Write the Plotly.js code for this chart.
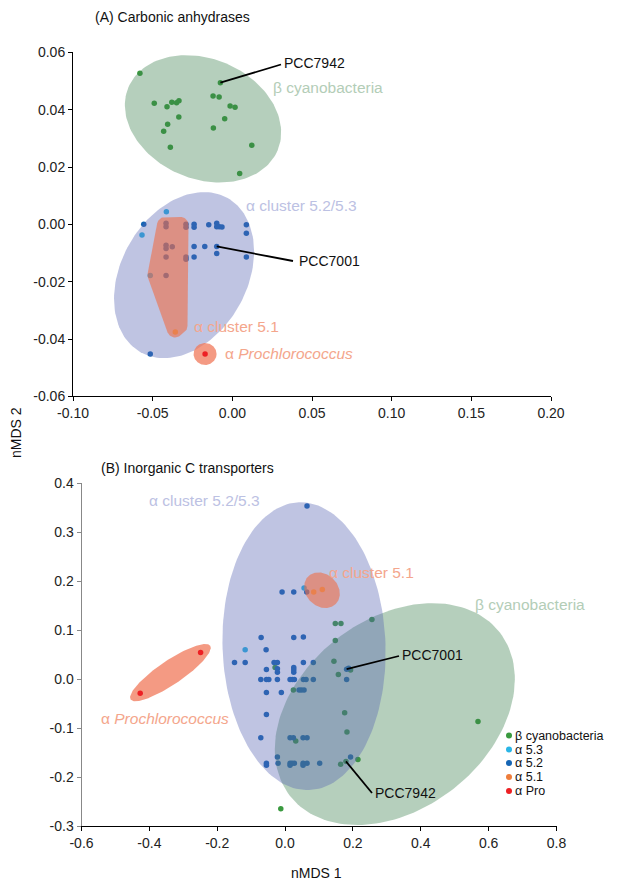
<!DOCTYPE html>
<html><head><meta charset="utf-8">
<script src="https://cdn.plot.ly/plotly-3.0.1.min.js"></script>
<style>html,body{margin:0;padding:0;background:#fff}</style>
</head><body>
<div id="chart" style="width:617px;height:882px"></div>
<script>
// ---------------- DATA ----------------
const categories = ["β cyanobacteria", "α 5.3", "α 5.2", "α 5.1", "α Pro"];

// Panel A: Carbonic anhydrases
const A_beta_x = [-0.058,-0.049,-0.041,-0.038,-0.035,-0.0335,-0.0336,-0.0406,-0.0431,-0.0389,-0.0075,-0.0121,-0.0083,-0.0014,0.0017,-0.0048,-0.0119,0.0122,0.0046];
const A_beta_y = [0.0527,0.0422,0.0410,0.0426,0.0424,0.0431,0.0374,0.0349,0.0325,0.0269,0.0494,0.0448,0.0444,0.0413,0.0408,0.0368,0.0336,0.0276,0.0177];
const A_a53_x = [-0.0414,-0.0567,-0.0515];
const A_a53_y = [0.0044,-0.0037,-0.0178];
const A_a52_x = [-0.0556,-0.0416,-0.0416,-0.0291,-0.0291,-0.0240,-0.0240,-0.0148,-0.0098,-0.0098,-0.0082,-0.0065,0.0088,0.0088,-0.0240,-0.0173,-0.0098,-0.0098,-0.0240,0.0088,-0.0515,-0.0416,-0.0416,-0.0377,-0.0416,-0.0291,-0.0291,-0.0416];
const A_a52_y = [0.0000,0.0004,-0.0008,0.0000,-0.0010,0.0000,-0.0010,-0.0001,0.0004,-0.0008,-0.0008,-0.0009,-0.0001,-0.0031,-0.0077,-0.0077,-0.0077,-0.0102,-0.0114,-0.0114,-0.0452,-0.0073,-0.0084,-0.0078,-0.0114,-0.0114,-0.0122,-0.0178];
const A_a51_x = [-0.0358];
const A_a51_y = [-0.0375];
const A_pro_x = [-0.0171];
const A_pro_y = [-0.0452];

// Panel B: Inorganic C transporters
const B_beta_x = [0.148,0.1647,0.256,0.148,0.144,0.193,0.157,-0.0294,0.0245,0.1756,0.1824,0.0315,0.2147,0.1638,0.1794,-0.0126,0.5686];
const B_beta_y = [0.1137,0.1137,0.122,0.079,0.0367,0.0184,0.0096,0.0239,-0.022,-0.0688,-0.108,-0.1265,-0.164,-0.174,-0.168,-0.265,-0.0864];
const B_a53_x = [0.056,-0.1176];
const B_a53_y = [0.186,0.0598];
const B_a52_x = [0.0647,-0.0088,0.0256,0.0638,-0.0706,0.0256,0.054,-0.0559,-0.149,-0.1176,-0.0324,-0.0226,0.054,0.0832,-0.055,-0.0226,-0.0226,0.0256,0.0256,0.0256,0.1814,0.1874,
  -0.0715,-0.055,-0.048,-0.0226,0.0147,0.0215,0.0274,0.054,0.0618,0.0832,0.1814,
  0.0412,0.048,0.0559,-0.055,-0.011,-0.055,-0.0715,0.0147,0.0245,0.053,0.0647,-0.0226,0.193,
  -0.055,-0.0206,0.0147,0.0206,0.0274,0.053,0.0647,0.102,-0.055,0.0147,0.053];
const B_a52_y = [0.3537,0.178,0.178,0.178,0.085,0.085,0.0863,0.0598,0.0341,0.0341,0.0341,0.0341,0.0341,0.0341,0.0198,0.021,0.0143,0.024,0.019,0.0143,0.0204,0.0224,
  -0.001,-0.001,-0.001,-0.001,-0.001,-0.001,-0.001,-0.001,-0.001,-0.001,-0.001,
  -0.022,-0.022,-0.022,-0.0272,-0.0272,-0.072,-0.1197,-0.1197,-0.1197,-0.1197,-0.1197,-0.159,-0.159,
  -0.172,-0.172,-0.172,-0.172,-0.172,-0.172,-0.172,-0.172,-0.176,-0.176,-0.176];
const B_a51_x = [0.0844,0.1097];
const B_a51_y = [0.178,0.183];
const B_pro_x = [-0.249,-0.427];
const B_pro_y = [0.0545,-0.029];

// Tick labels
const A_xtick_vals = [-0.10,-0.05,0.00,0.05,0.10,0.15,0.20];
const A_xtick_text = ["-0.10","-0.05","0.00","0.05","0.10","0.15","0.20"];
const A_ytick_vals = [-0.06,-0.04,-0.02,0.00,0.02,0.04,0.06];
const A_ytick_text = ["-0.06","-0.04","-0.02","0.00","0.02","0.04","0.06"];
const B_xtick_vals = [-0.6,-0.4,-0.2,0.0,0.2,0.4,0.6,0.8];
const B_xtick_text = ["-0.6","-0.4","-0.2","0.0","0.2","0.4","0.6","0.8"];
const B_ytick_vals = [-0.3,-0.2,-0.1,0.0,0.1,0.2,0.3,0.4];
const B_ytick_text = ["-0.3","-0.2","-0.1","0.0","0.1","0.2","0.3","0.4"];

// ---------------- STYLE / GEOMETRY ----------------
const W = 617, H = 882;
const FONT = "Liberation Sans, Arial, Helvetica, sans-serif";
const COL = {beta:"#3a9a3f", a53:"#2ab5e6", a52:"#1565b4", a51:"#ee7d3b", pro:"#ed2024"};
const catColors = [COL.beta, COL.a53, COL.a52, COL.a51, COL.pro];
const FILL = {
  green: "rgba(60,130,80,0.38)",
  blue: "rgba(87,100,179,0.38)",
  orange: "rgba(240,110,70,0.6)",
  pro: "rgba(240,120,90,0.75)"
};
const TXT = {green:"#b3cdb7", blue:"#bcc1e3", salmon:"#f4a68c"};

const PA = {x0:73, x1:551, yTop:52.3, yBot:396.4, xr:[-0.10,0.20], yr:[-0.06,0.06], xa:'x', ya:'y'};
const PB = {x0:81.5, x1:556.5, yTop:483.3, yBot:826, xr:[-0.6,0.8], yr:[-0.3,0.4], xa:'x2', ya:'y2'};
[PA,PB].forEach(p => {
  p.sx = (p.x1 - p.x0) / (p.xr[1] - p.xr[0]);
  p.sy = (p.yBot - p.yTop) / (p.yr[1] - p.yr[0]);
});
function toData(p, px, py) { return [p.xr[0] + (px - p.x0) / p.sx, p.yr[0] + (p.yBot - py) / p.sy]; }

function ellipse(p, cx, cy, a, b, deg) {
  const th = deg * Math.PI / 180, xs = [], ys = [];
  for (let i = 0; i <= 160; i++) {
    const t = 2 * Math.PI * i / 160;
    const u = a * Math.cos(t) * Math.cos(th) - b * Math.sin(t) * Math.sin(th);
    const v = a * Math.cos(t) * Math.sin(th) + b * Math.sin(t) * Math.cos(th);
    xs.push(cx + u / p.sx); ys.push(cy + v / p.sy);
  }
  return [xs, ys];
}
function roundedHull(p, core, r) {
  let pts = core.map(([x, y]) => [(x - p.xr[0]) * p.sx, (y - p.yr[0]) * p.sy]);
  let area = 0;
  for (let i = 0; i < pts.length; i++) { const a = pts[i], b = pts[(i + 1) % pts.length]; area += a[0] * b[1] - b[0] * a[1]; }
  if (area < 0) pts.reverse();
  const n = pts.length, xs = [], ys = [];
  for (let i = 0; i < n; i++) {
    const pr = pts[(i - 1 + n) % n], c = pts[i], nx = pts[(i + 1) % n];
    const e1 = [c[0] - pr[0], c[1] - pr[1]], e2 = [nx[0] - c[0], nx[1] - c[1]];
    let a1 = Math.atan2(-e1[0], e1[1]), a2 = Math.atan2(-e2[0], e2[1]);
    while (a2 < a1) a2 += 2 * Math.PI;
    for (let k = 0; k <= 12; k++) {
      const a = a1 + (a2 - a1) * k / 12;
      xs.push(p.xr[0] + (c[0] + r * Math.cos(a)) / p.sx);
      ys.push(p.yr[0] + (c[1] + r * Math.sin(a)) / p.sy);
    }
  }
  xs.push(xs[0]); ys.push(ys[0]);
  return [xs, ys];
}

function fillTrace(p, xy, color) {
  return {type:'scatter', mode:'lines', x:xy[0], y:xy[1], fill:'toself', fillcolor:color,
    line:{width:0, color:'rgba(0,0,0,0)'}, hoverinfo:'skip', showlegend:false, xaxis:p.xa, yaxis:p.ya};
}
function ptTrace(p, xs, ys, color, name, extra) {
  return Object.assign({type:'scatter', mode:'markers', x:xs, y:ys, name:name,
    marker:{size:5.5, color:color, line:{width:0}}, cliponaxis:false, showlegend:false,
    hoverinfo:'x+y+name', xaxis:p.xa, yaxis:p.ya}, extra || {});
}

// hull core for alpha 5.1 in panel A (pixel corners converted to data)
const hullA = [[165,225],[180.5,225],[179.5,326],[175,329.5],[155.5,275]].map(q => toData(PA, q[0], q[1]));

const traces = [
  // Panel A
  ptTrace(PA, A_beta_x, A_beta_y, COL.beta, categories[0]),
  ptTrace(PA, A_a52_x, A_a52_y, COL.a52, categories[2]),
  ptTrace(PA, A_a53_x, A_a53_y, COL.a53, categories[1]),
  fillTrace(PA, ellipse(PA, -0.0184, 0.0368, 81, 60, -23), FILL.green),
  fillTrace(PA, ellipse(PA, -0.0303, -0.0177, 88.5, 63, 60.5), FILL.blue),
  fillTrace(PA, roundedHull(PA, hullA, 8), FILL.orange),
  ptTrace(PA, A_a51_x, A_a51_y, COL.a51, categories[3], {opacity:0.75}),
  fillTrace(PA, ellipse(PA, A_pro_x[0], A_pro_y[0], 11.5, 11, 0), FILL.pro),
  ptTrace(PA, A_pro_x, A_pro_y, COL.pro, categories[4]),
  // Panel B
  ptTrace(PB, B_beta_x, B_beta_y, COL.beta, categories[0]),
  ptTrace(PB, B_a52_x, B_a52_y, COL.a52, categories[2]),
  ptTrace(PB, B_a53_x, B_a53_y, COL.a53, categories[1]),
  fillTrace(PB, ellipse(PB, 0.3235, -0.0714, 133, 95, 38), FILL.green),
  fillTrace(PB, ellipse(PB, 0.0559, 0.0673, 144, 81.5, 92), FILL.blue),
  fillTrace(PB, ellipse(PB, 0.1088, 0.1816, 19.5, 16, -45), FILL.orange),
  ptTrace(PB, B_a51_x, B_a51_y, COL.a51, categories[3], {opacity:0.75}),
  fillTrace(PB, ellipse(PB, -0.338, 0.0133, 48, 12, 34), FILL.pro),
  ptTrace(PB, B_pro_x, B_pro_y, COL.pro, categories[4])
];

function ann(text, px, py, size, color, extra) {
  return Object.assign({text:text, x:px / W, y:1 - py / H, xref:'paper', yref:'paper',
    xanchor:'left', yanchor:'middle', showarrow:false,
    font:{family:FONT, size:size, color:color}}, extra || {});
}
const annotations = [
  ann("(A) Carbonic anhydrases", 172, 17, 14, "#111", {xanchor:'center'}),
  ann("(B) Inorganic C transporters", 187, 468, 14, "#111", {xanchor:'center'}),
  ann("nMDS 1", 316, 873, 14, "#111", {xanchor:'center'}),
  ann("nMDS 2", 16, 433, 14, "#111", {xanchor:'center', textangle:-90}),
  // panel A labels
  ann("β cyanobacteria", 271, 88, 15.5, TXT.green),
  ann("α cluster 5.2/5.3", 244, 206, 15.5, TXT.blue),
  ann("α cluster 5.1", 192, 326, 15.5, TXT.salmon),
  ann("α <i>Prochlorococcus</i>", 223, 353, 15.5, TXT.salmon),
  ann("PCC7942", 282, 63, 14, "#111"),
  ann("PCC7001", 297, 261, 14, "#111"),
  // panel B labels
  ann("α cluster 5.2/5.3", 147, 500, 15.5, TXT.blue),
  ann("α cluster 5.1", 327, 572, 15.5, TXT.salmon),
  ann("β cyanobacteria", 473, 604, 15.5, TXT.green),
  ann("α <i>Prochlorococcus</i>", 99, 718, 15.5, TXT.salmon),
  ann("PCC7001", 400, 655, 14, "#111"),
  ann("PCC7942", 373, 793, 14, "#111")
];
// legend text
const legendY = [735.5, 749.5, 763, 777, 791];
categories.forEach((c, i) => annotations.push(ann(c, 514, legendY[i], 12.5, "#111", {borderpad:0})));

function callout(p, x, y, px, py) {
  const e = toData(p, px, py);
  return {type:'line', xref:p.xa, yref:p.ya, x0:x, y0:y, x1:e[0], y1:e[1], line:{color:'#000', width:1.8}};
}
const shapes = [
  callout(PA, A_beta_x[10], A_beta_y[10], 281, 64.5),
  callout(PA, A_a52_x[16], A_a52_y[16], 293, 261),
  callout(PB, B_a52_x[20], B_a52_y[20], 399, 656),
  callout(PB, B_beta_x[14], B_beta_y[14], 372, 793)
];
catColors.forEach((col, i) => shapes.push({type:'circle', xref:'paper', yref:'paper',
  x0:(509 - 3) / W, x1:(509 + 3) / W, y0:1 - (legendY[i] + 3) / H, y1:1 - (legendY[i] - 3) / H,
  fillcolor:col, line:{width:0}}));

function axis(p, isX, vals, text, dom, anchor, lineColor) {
  return {range:isX ? p.xr : p.yr, domain:dom, anchor:anchor, showline:true, linecolor:lineColor, linewidth:1,
    ticks:'outside', ticklen:4, tickcolor:lineColor, tickwidth:1, showgrid:false, zeroline:false,
    tickvals:vals, ticktext:text, tickfont:{family:FONT, size:14, color:'#222'}, fixedrange:true};
}

const layout = {
  width:W, height:H, autosize:false, margin:{l:0, r:0, t:0, b:0},
  paper_bgcolor:'#fff', plot_bgcolor:'rgba(0,0,0,0)', showlegend:false,
  font:{family:FONT},
  xaxis: axis(PA, true, A_xtick_vals, A_xtick_text, [PA.x0 / W, PA.x1 / W], 'y', '#000'),
  yaxis: axis(PA, false, A_ytick_vals, A_ytick_text, [1 - PA.yBot / H, 1 - PA.yTop / H], 'x', '#000'),
  xaxis2: axis(PB, true, B_xtick_vals, B_xtick_text, [PB.x0 / W, PB.x1 / W], 'y2', '#000'),
  yaxis2: axis(PB, false, B_ytick_vals, B_ytick_text, [1 - PB.yBot / H, 1 - PB.yTop / H], 'x2', '#888'),
  annotations: annotations,
  shapes: shapes
};

Plotly.newPlot('chart', traces, layout, {displayModeBar:false, staticPlot:true});
</script>
</body></html>
